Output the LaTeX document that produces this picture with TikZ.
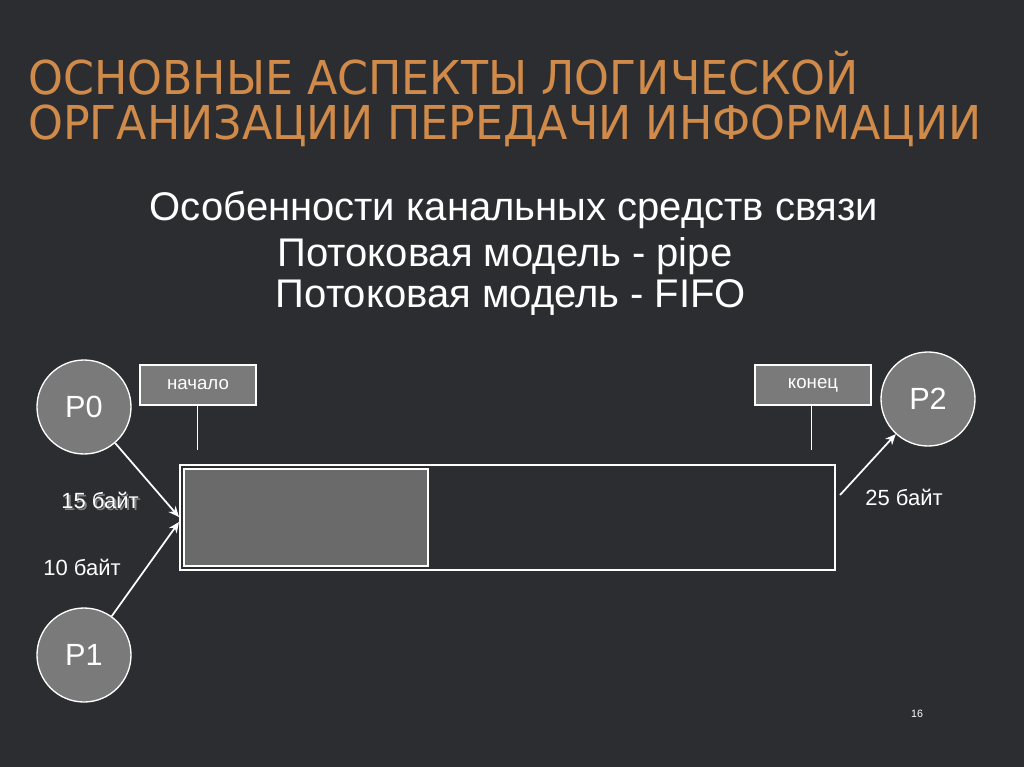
\documentclass[tikz,border=0pt]{standalone}
\usepackage{fontspec}
\setmainfont{Liberation Sans}
\newfontfamily\titlefont{DejaVu Sans}
\usetikzlibrary{arrows.meta}
\definecolor{bg}{HTML}{2B2D31}
\definecolor{ttl}{HTML}{D08A4A}
\definecolor{circ}{HTML}{7A7A7A}
\definecolor{fillg}{HTML}{6A6A6A}
\begin{document}
\begin{tikzpicture}[x=0.75pt,y=-0.75pt,
  proc/.style={circle,draw=white,line width=1pt,fill=circ,minimum size=70.5pt,inner sep=0pt,text=white,font=\fontsize{23}{26}\selectfont},
  tag/.style={draw=white,line width=0.8pt,fill=circ,minimum width=87pt,minimum height=30pt,inner sep=0pt,text=white,font=\fontsize{14}{16}\selectfont},
  lbl/.style={text=white,font=\fontsize{16.5}{19}\selectfont,inner sep=0pt},
  arr/.style={white,line width=1.3pt,-{Stealth[length=8pt,width=7pt]}},
  ttlstyle/.style={anchor=west,text=ttl,inner sep=0pt,xscale=0.95,font=\titlefont\fontsize{35}{40}\selectfont},
  body/.style={text=white,font=\fontsize{30}{34}\selectfont,inner sep=0pt}]
\useasboundingbox (0,0) rectangle (1024,767);
\fill[bg] (0,0) rectangle (1024,767);
\node[ttlstyle] (t1) at (28,73) {ОСНОВНЫЕ АСПЕКТЫ ЛОГИЧЕСКОЙ};
\node[ttlstyle] (t2) at (28,126) {ОРГАНИЗАЦИИ ПЕРЕДАЧИ ИНФОРМАЦИИ};
\node[body] (s1) at (514,210) {Особенности канальных средств связи};
\node[body] (s2) at (505,256) {Потоковая модель - pipe};
\node[body] (s3) at (511,298) {Потоковая модель - FIFO};
\node[proc] (p0) at (84,407) {P0};
\node[proc] (p1) at (84,655) {P1};
\node[proc] (p2) at (928,399) {P2};
\node[tag] (nb) at (198,385) {начало};
\node[tag] (kb) at (813,385) {конец};
\coordinate (nl) at (197,450);
\coordinate (kl) at (811,450);
\draw[white,line width=0.6pt] (nb.south -| nl) -- (nl);
\draw[white,line width=0.6pt] (kb.south -| kl) -- (kl);
\draw[white,line width=0.8pt] (180,465) rectangle (835,570);
\draw[white,line width=0.8pt,fill=fillg] (184,469) rectangle (428,566);
\coordinate (in1) at (179,517);
\coordinate (in2) at (179,522);
\coordinate (out) at (840,495);
\draw[arr] (p0) -- (in1);
\draw[arr] (p1) -- (in2);
\draw[arr] (out) -- (p2);
\node[lbl,text=gray] at (102,502) {15 байт};
\node[lbl] (l15) at (100,500) {15 байт};
\node[lbl] (l10) at (82,567) {10 байт};
\node[lbl] (l25) at (904,497) {25 байт};
\node[text=white!80,font=\fontsize{8}{9}\selectfont,inner sep=0pt] (pg) at (917,714) {16};
\end{tikzpicture}
\end{document}
